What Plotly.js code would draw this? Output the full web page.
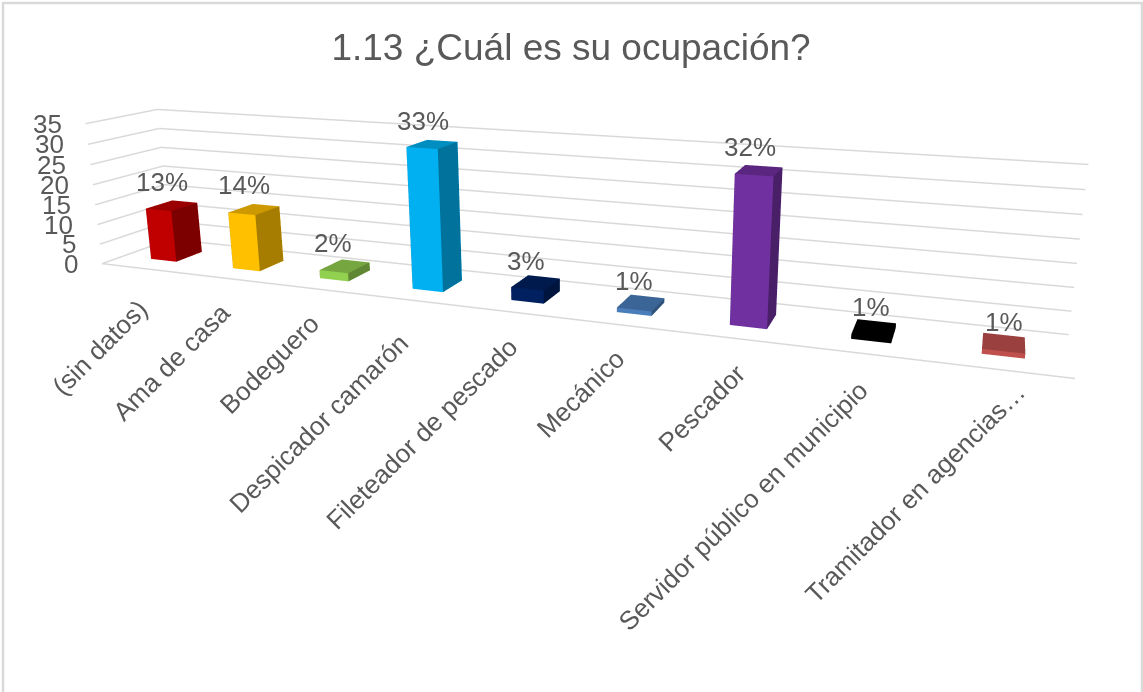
<!DOCTYPE html><html><head><meta charset="utf-8"><script src="https://cdn.plot.ly/plotly-3.0.1.min.js"></script>
<style>html,body{margin:0;padding:0;background:#fff;overflow:hidden;width:1143px;height:692px}#c{position:absolute;left:0;top:-224px;width:1169px;height:929px}</style></head><body><div id="c"></div>
<script>
const categories=["(sin datos)","Ama de casa","Bodeguero","Despicador camarón","Fileteador de pescado","Mecánico","Pescador","Servidor público en municipio","Tramitador en agencias…"];
const values=[13,14,2,33,3,1,32,1,1];
const percentLabels=["13%","14%","2%","33%","3%","1%","32%","1%","1%"];
const zTicks=[0,5,10,15,20,25,30,35];
const barColors=["#c00000","#ffc000","#92d050","#00b0f0","#002060","#4a7ebb","#7030a0","#000000","#c0504d"];

const GW=1169,GH=929,TOP=224,HALF_W=0.1575,HALF_D=0.1946,TEXT="#595959",FS=26;
const catLabelDx=[13,12,12,6,12,10,14,10,31], catLabelDy=[23,16,17,25,17,16,17,18,4];
const pctDx=[-10,-10,-12,-9,-10,-7,-9,-3,0], pctDy=[24,24,23,23,22,22,24,22,21];
function shade(hex,k){const n=parseInt(hex.slice(1),16);const f=s=>Math.round(((n>>s)&255)*k).toString(16).padStart(2,'0');return '#'+f(16)+f(8)+f(0);}

const traces=[];
// gridlines on the side and back walls + front floor edge
zTicks.forEach(z=>traces.push({type:'scatter3d',mode:'lines',x:[0,0,9],y:[0,1,1],z:[z,z,z],line:{color:'#d9d9d9',width:3},hoverinfo:'skip',showlegend:false}));
traces.push({type:'scatter3d',mode:'lines',x:[0,9],y:[0,0],z:[0,0],line:{color:'#d9d9d9',width:3},hoverinfo:'skip',showlegend:false});
// bars
values.forEach((v,n)=>{
 const c=n+.5,a=c-HALF_W,b=c+HALF_W,f=.5-HALF_D,k=.5+HALF_D;
 const col=barColors[n],top=shade(col,.8),side=shade(col,.65);
 traces.push({type:'mesh3d',name:categories[n],x:[a,b,b,a,a,b,b,a],y:[f,f,k,k,f,f,k,k],z:[0,0,0,0,v,v,v,v],
  i:[0,0,4,4,0,0,1,1,2,2,3,3],j:[1,2,5,6,1,5,2,6,3,7,0,4],k:[2,3,6,7,5,4,6,5,7,6,4,7],
  facecolor:[col,col,top,top,col,col,side,side,col,col,side,side],flatshading:true,
  lighting:{ambient:1,diffuse:0,specular:0,roughness:1,fresnel:0},hoverinfo:'skip',showscale:false});
});
const F={size:FS,color:TEXT,family:'"Liberation Sans",Arial,sans-serif'};
const ann=[];
zTicks.forEach(z=>ann.push({x:0,y:0,z:z,text:String(z),showarrow:false,xanchor:'right',yanchor:'middle',xshift:-22,font:F}));
values.forEach((v,n)=>ann.push({x:n+.5,y:.5,z:v,text:percentLabels[n],showarrow:false,xanchor:'center',yanchor:'middle',xshift:pctDx[n],yshift:pctDy[n],font:F}));
categories.forEach((t,n)=>ann.push({x:n+.5,y:0,z:0,text:t,showarrow:false,textangle:-45,xanchor:'right',yanchor:'top',xshift:catLabelDx[n],yshift:-catLabelDy[n],font:F}));
const ax={visible:false,showspikes:false};
const layout={width:GW,height:GH,margin:{l:0,r:0,t:0,b:0},paper_bgcolor:'#fff',showlegend:false,
 title:{text:"1.13 ¿Cuál es su ocupación?",font:{size:37,color:TEXT,family:'"Liberation Sans",Arial,sans-serif'},x:571/GW,xanchor:'center',y:1-(TOP+47)/GH,yanchor:'middle'},
 shapes:[{type:'rect',xref:'paper',yref:'paper',x0:3/GW,x1:1142/GW,y0:1-(TOP+700)/GH,y1:1-(TOP+3)/GH,line:{color:'#d9d9d9',width:2.5},fillcolor:'rgba(0,0,0,0)'}],
 scene:{domain:{x:[0,1],y:[0,1]},aspectmode:'manual',aspectratio:{x:1,y:.1122,z:.1571},dragmode:'orbit',
  xaxis:{...ax,range:[0,9]},yaxis:{...ax,range:[0,1]},zaxis:{...ax,range:[0,35]},
  camera:{eye:{x:.4199,y:-.9975,z:.268},center:{x:.086,y:-.091,z:.0097},up:{x:-.087,y:.2433,z:.966},projection:{type:'perspective'}},annotations:ann}};
Plotly.newPlot('c',traces,layout,{displayModeBar:false});
</script></body></html>
